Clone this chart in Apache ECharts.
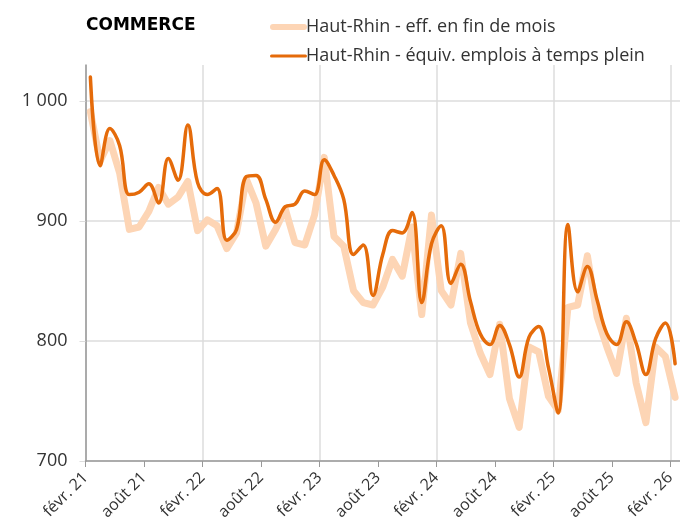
<!DOCTYPE html>
<html>
<head>
<meta charset="utf-8">
<script src="https://cdn.jsdelivr.net/npm/echarts@6/dist/echarts.min.js"></script>
<style>
  html, body { margin: 0; padding: 0; background: #fff; }
  #chart { width: 680px; height: 528px; }
</style>
</head>
<body>
<div id="chart"></div>
<script>
// one label every 6 months, from févr. 21 to févr. 26
const tickLabels = ['févr. 21', 'août 21', 'févr. 22', 'août 22', 'févr. 23', 'août 23',
  'févr. 24', 'août 24', 'févr. 25', 'août 25', 'févr. 26']

// monthly values, févr. 21 -> févr. 26
const effectifs = [
  991, 950, 967, 940, 893, 895, 908, 928, 914, 920, 933, 892,
  901, 896, 877, 890, 935, 915, 879, 893, 910, 882, 880, 905,
  953, 887, 879, 842, 832, 830, 845, 868, 854, 895, 822, 905,
  842, 830, 873, 815, 790, 772, 814, 752, 728, 795, 791, 754,
  742, 828, 830, 871, 820, 795, 773, 819, 765, 732, 795, 787,
  753
]
const etp = [
  1020, 946, 977, 963, 922, 924, 931, 915, 952, 934, 980, 932,
  922, 927, 884, 893, 937, 938, 918, 899, 912, 914, 925, 922,
  951, 938, 918, 872, 880, 838, 872, 892, 890, 907, 832, 881,
  896, 848, 864, 833, 806, 797, 813, 797, 770, 803, 812, 778,
  740, 897, 841, 862, 834, 806, 797, 816, 798, 772, 802, 815,
  781
]

const chart = echarts.init(document.getElementById('chart'))

// points sit in the middle of each month
const toPoints = (arr) => arr.map((v, i) => [i + 0.5, v])

const fmtFr = (v) => String(v).replace(/\B(?=(\d{3})+(?!\d))/g, ' ')

const option = {
  animation: false,
  textStyle: { fontFamily: 'Open Sans' },
  title: {
    text: 'COMMERCE',
    left: 81,
    top: 12,
    textStyle: { fontFamily: 'DejaVu Sans', fontWeight: 'bold', fontSize: 17, color: '#000' }
  },
  legend: {
    orient: 'vertical',
    left: 265,
    top: 13,
    itemWidth: 37,
    itemHeight: 14,
    itemGap: 11,
    textStyle: { fontFamily: 'Open Sans', fontSize: 18, color: '#333', padding: [0, 0, 0, -6] },
    data: [
      { name: 'Haut-Rhin - eff. en fin de mois', icon: 'path://M3,0 H34 A3,3 0 0 1 34,6 H3 A3,3 0 0 1 3,0 Z' },
      { name: 'Haut-Rhin - équiv. emplois à temps plein', icon: 'path://M1.5,0 H35.5 A1.5,1.5 0 0 1 35.5,3 H1.5 A1.5,1.5 0 0 1 1.5,0 Z' }
    ]
  },
  grid: { left: 85.5, right: 0, top: 65, bottom: 67 },
  xAxis: {
    type: 'value',
    min: 0,
    max: 61,
    interval: 6,
    axisLine: { lineStyle: { color: '#999', width: 1.5 } },
    axisTick: { show: true, length: 6, lineStyle: { color: '#999' } },
    axisLabel: {
      rotate: 45,
      fontFamily: 'Open Sans',
      fontSize: 16,
      color: '#333',
      margin: 14,
      showMaxLabel: false,
      formatter: (v) => tickLabels[v / 6] || ''
    },
    splitLine: {
      show: true,
      showMaxLine: false,
      lineStyle: { color: ['#ddd', 'rgba(0,0,0,0)'], width: 1.5 }
    }
  },
  yAxis: {
    type: 'value',
    min: 700,
    max: 1030,
    interval: 100,
    axisLine: { show: true, lineStyle: { color: '#999', width: 1.5 } },
    axisTick: { show: true, length: 6, lineStyle: { color: '#ddd' } },
    axisLabel: {
      fontFamily: 'Open Sans',
      fontSize: 18,
      color: '#333',
      margin: 18,
      showMaxLabel: false,
      formatter: (v) => fmtFr(v)
    },
    splitLine: { show: true, showMaxLine: false, lineStyle: { color: '#ddd', width: 1.5 } }
  },
  series: [
    {
      name: 'Haut-Rhin - eff. en fin de mois',
      type: 'line',
      data: toPoints(effectifs),
      showSymbol: false,
      symbol: 'none',
      lineStyle: { color: '#FDD5B5', width: 7, cap: 'round', join: 'round' },
      itemStyle: { color: '#FDD5B5' }
    },
    {
      name: 'Haut-Rhin - équiv. emplois à temps plein',
      type: 'line',
      data: toPoints(etp),
      smooth: 0.4,
      showSymbol: false,
      symbol: 'none',
      lineStyle: { color: '#E56B0A', width: 3.5, cap: 'round' },
      itemStyle: { color: '#E56B0A' }
    }
  ]
}

chart.setOption(option)
</script>
</body>
</html>
